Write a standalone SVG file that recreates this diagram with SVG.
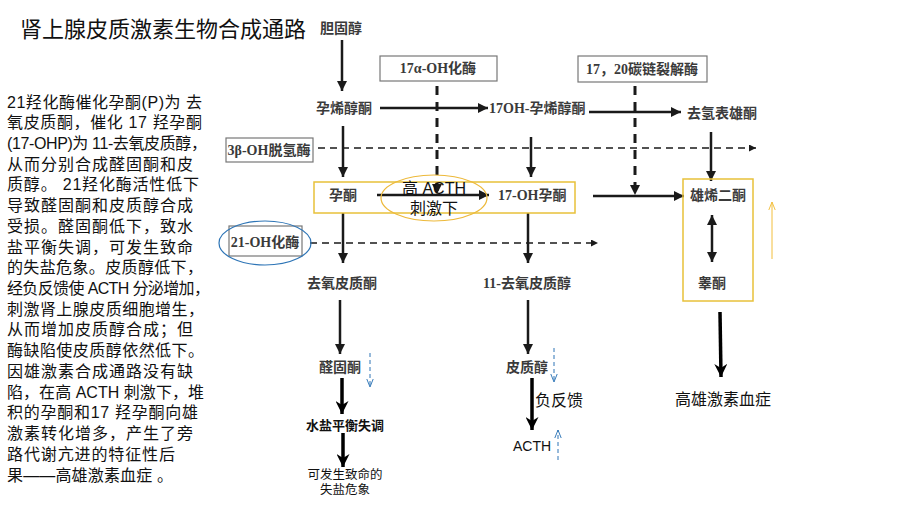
<svg xmlns="http://www.w3.org/2000/svg" width="920" height="517" viewBox="0 0 920 517">
<defs>
<style>
.lbl{font-family:"Liberation Serif","Noto Sans CJK SC",serif;font-size:14px;fill:#3a3a3a;font-weight:bold}
.sans{font-family:"Liberation Sans","Noto Sans CJK SC",sans-serif;fill:#111}
.body{font-family:"Liberation Sans","Noto Sans CJK SC",sans-serif;font-size:16px;fill:#111}
.box{fill:#fff;stroke:#777;stroke-width:1.2}
.ybox{fill:none;stroke:#E8C13A;stroke-width:1.5}
.arr{stroke:#1a1a1a;stroke-width:2.5;fill:none;marker-end:url(#ah)}
.thick{stroke:#000;stroke-width:3.5;fill:none;marker-end:url(#ahb)}
.dashv{stroke:#1a1a1a;stroke-width:3;fill:none;stroke-dasharray:9 7;marker-end:url(#ah)}
.dashh{stroke:#1a1a1a;stroke-width:1.5;fill:none;stroke-dasharray:7 5;marker-end:url(#ahs)}
.bdash{stroke:#2E75B6;stroke-width:1;fill:none;stroke-dasharray:4 3;marker-end:url(#ob)}
</style>
<marker id="ah" viewBox="0 0 10 10" refX="10" refY="5" markerWidth="10" markerHeight="10" markerUnits="userSpaceOnUse" orient="auto"><path d="M0,0 L10,5 L0,10 Z" fill="#1a1a1a"/></marker>
<marker id="ahb" viewBox="0 0 10 10" refX="10" refY="5" markerWidth="13" markerHeight="13" markerUnits="userSpaceOnUse" orient="auto"><path d="M0,0 L10,5 L0,10 L3,5 Z" fill="#000"/></marker>
<marker id="ahs" viewBox="0 0 10 10" refX="10" refY="5" markerWidth="7" markerHeight="7" markerUnits="userSpaceOnUse" orient="auto"><path d="M0,0 L10,5 L0,10 Z" fill="#1a1a1a"/></marker>
<marker id="ahs2" viewBox="0 0 10 10" refX="10" refY="5" markerWidth="10" markerHeight="10" markerUnits="userSpaceOnUse" orient="auto-start-reverse"><path d="M0,0 L10,5 L0,10 Z" fill="#1a1a1a"/></marker>
<marker id="ob" viewBox="0 0 10 10" refX="10" refY="5" markerWidth="8" markerHeight="8" markerUnits="userSpaceOnUse" orient="auto"><path d="M0,1 L10,5 L0,9" fill="none" stroke="#2E75B6" stroke-width="1.2"/></marker>
<marker id="oy" viewBox="0 0 10 10" refX="10" refY="5" markerWidth="8" markerHeight="8" markerUnits="userSpaceOnUse" orient="auto"><path d="M0,1 L10,5 L0,9" fill="none" stroke="#F2BE3C" stroke-width="1.2"/></marker>
</defs>
<rect width="920" height="517" fill="#fff"/>

<text class="sans" x="20" y="37" font-size="22" fill="#222">肾上腺皮质激素生物合成通路</text>

<g id="explanation" class="body">
<text x="7" y="108" textLength="195">21羟化酶催化孕酮(P)为 去</text>
<text x="7" y="128" textLength="195">氧皮质酮，催化 17 羟孕酮</text>
<text x="7" y="149" textLength="200">(17-OHP)为 11-去氧皮质醇，</text>
<text x="7" y="170" textLength="186">从而分别合成醛固酮和皮</text>
<text x="7" y="190" textLength="192">质醇。 21羟化酶活性低下</text>
<text x="7" y="211" textLength="186">导致醛固酮和皮质醇合成</text>
<text x="7" y="232" textLength="186">受损。醛固酮低下，致水</text>
<text x="7" y="253" textLength="186">盐平衡失调，可发生致命</text>
<text x="7" y="273" textLength="196">的失盐危象。皮质醇低下，</text>
<text x="7" y="294" textLength="203">经负反馈使 ACTH 分泌增加，</text>
<text x="7" y="315" textLength="197">刺激肾上腺皮质细胞增生，</text>
<text x="7" y="335" textLength="186">从而增加皮质醇合成；但</text>
<text x="7" y="356" textLength="197">酶缺陷使皮质醇依然低下。</text>
<text x="7" y="377" textLength="186">因雄激素合成通路没有缺</text>
<text x="7" y="398" textLength="197">陷，在高 ACTH 刺激下，堆</text>
<text x="7" y="418" textLength="191">积的孕酮和17 羟孕酮向雄</text>
<text x="7" y="439" textLength="186">激素转化增多，产生了旁</text>
<text x="7" y="460" textLength="168">路代谢亢进的特征性后</text>
<text x="7" y="481" textLength="166">果——高雄激素血症 。</text>
</g>

<g id="connectors">
<line class="arr" x1="342" y1="40" x2="342" y2="91"/>
<line class="dashv" x1="437" y1="86" x2="437" y2="194"/>
<line class="dashv" x1="635" y1="86" x2="635" y2="195"/>
<line class="arr" x1="380" y1="108" x2="488" y2="108"/>
<line class="arr" x1="589" y1="112" x2="681" y2="112"/>
<line class="dashh" x1="318" y1="148" x2="756" y2="148"/>
<line class="arr" x1="343" y1="126" x2="343" y2="177"/>
<line class="arr" x1="531" y1="137" x2="531" y2="177"/>
<line class="arr" x1="711" y1="132" x2="711" y2="181"/>
<line class="arr" x1="377" y1="195" x2="489" y2="195"/>
<line class="arr" x1="593" y1="196" x2="684" y2="196"/>
<line stroke="#1a1a1a" stroke-width="2.5" x1="712" y1="215" x2="712" y2="262" marker-start="url(#ahs2)" marker-end="url(#ahs2)"/>
<line stroke="#F2BE3C" stroke-width="1" x1="772" y1="259" x2="772" y2="202" marker-end="url(#oy)"/>
<line class="dashh" x1="310" y1="243" x2="598" y2="243"/>
<line class="arr" x1="343" y1="213" x2="343" y2="263"/>
<line class="arr" x1="528" y1="213" x2="528" y2="263"/>
<line class="arr" x1="340" y1="300" x2="340" y2="354"/>
<line class="arr" x1="528" y1="300" x2="528" y2="354"/>
<line class="bdash" x1="370" y1="353" x2="370" y2="387"/>
<line class="bdash" x1="554" y1="348" x2="554" y2="382"/>
<line class="bdash" x1="558" y1="460" x2="558" y2="430"/>
<line class="thick" x1="342" y1="378" x2="342" y2="414"/>
<line class="thick" x1="343" y1="433" x2="343" y2="467"/>
<line class="thick" x1="532" y1="378" x2="532" y2="430"/>
<line class="thick" x1="720" y1="312" x2="721" y2="377"/>
</g>

<g id="n-cholesterol"><text class="lbl" x="320" y="33">胆固醇</text></g>
<g id="n-17a"><rect class="box" x="380" y="56" width="117" height="25"/><text class="lbl" x="438" y="73" text-anchor="middle">17α-OH化酶</text></g>
<g id="n-1720"><rect class="box" x="578" y="56" width="129" height="26"/><text class="lbl" x="642" y="74" text-anchor="middle">17，20碳链裂解酶</text></g>
<g id="n-preg"><text class="lbl" x="316" y="113">孕烯醇酮</text></g>
<g id="n-17preg"><text class="lbl" x="489" y="113">17OH-孕烯醇酮</text></g>
<g id="n-dhea"><text class="lbl" x="687" y="118">去氢表雄酮</text></g>
<g id="n-3b"><rect class="box" x="226" y="138" width="87" height="24"/><text class="lbl" x="269" y="155" text-anchor="middle">3β-OH脱氢酶</text></g>
<g id="n-prog-row">
<rect class="ybox" x="314" y="182" width="261" height="31"/>
<text class="lbl" x="343" y="200" text-anchor="middle">孕酮</text>
<text class="lbl" x="498" y="200">17-OH孕酮</text>
</g>
<g id="n-acth-high">
<ellipse cx="434" cy="198" rx="53" ry="23" fill="none" stroke="#EDB93A" stroke-width="1.2"/>
<text class="sans" x="434" y="194" font-size="16" text-anchor="middle">高 ACTH</text>
<text class="sans" x="434" y="214" font-size="16" text-anchor="middle">刺激下</text>
</g>
<g id="n-andro">
<rect class="ybox" x="683" y="179" width="70" height="122"/>
<text class="lbl" x="718" y="200" text-anchor="middle">雄烯二酮</text>
<text class="lbl" x="712" y="288" text-anchor="middle">睾酮</text>
</g>
<g id="n-21oh">
<rect class="box" x="229" y="226" width="73" height="30"/>
<text class="lbl" x="265" y="247" text-anchor="middle">21-OH化酶</text>
<ellipse cx="265" cy="243" rx="46" ry="22" fill="none" stroke="#2E75B6" stroke-width="1.2"/>
</g>
<g id="n-doc"><text class="lbl" x="342" y="288" text-anchor="middle">去氧皮质酮</text></g>
<g id="n-11doc"><text class="lbl" x="483" y="288">11-去氧皮质醇</text></g>
<g id="n-aldo"><text class="lbl" x="340" y="372" text-anchor="middle">醛固酮</text></g>
<g id="n-cort"><text class="lbl" x="527" y="372" text-anchor="middle">皮质醇</text></g>
<g id="n-salt"><text class="sans" x="345" y="430" font-size="13" font-weight="bold" fill="#000" text-anchor="middle">水盐平衡失调</text></g>
<g id="n-crisis">
<text class="sans" x="345" y="479" font-size="12.5" text-anchor="middle">可发生致命的</text>
<text class="sans" x="345" y="493.5" font-size="12.5" text-anchor="middle">失盐危象</text>
</g>
<g id="n-feedback"><text class="sans" x="535" y="406" font-size="16">负反馈</text></g>
<g id="n-acth"><text class="sans" x="513" y="451" font-size="14">ACTH</text></g>
<g id="n-hyper"><text class="sans" x="723" y="405" font-size="16" text-anchor="middle">高雄激素血症</text></g>
</svg>
